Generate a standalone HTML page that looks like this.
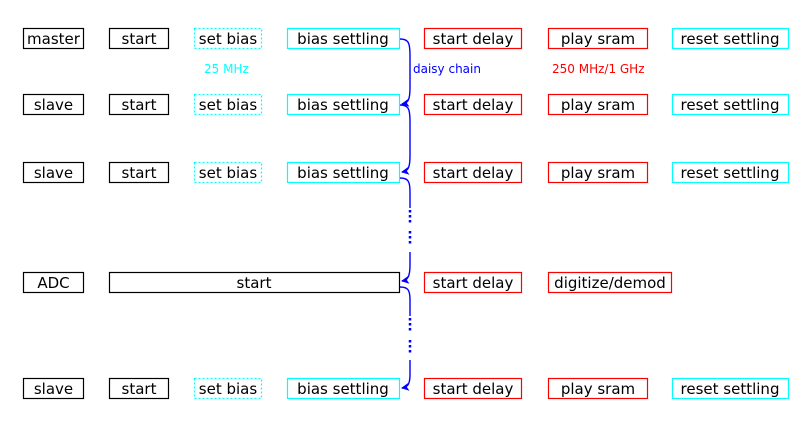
<!DOCTYPE html>
<html><head><style>
body{margin:0;background:#fff;width:806px;height:416px;overflow:hidden}
</style></head><body>
<svg width="806" height="416" xmlns="http://www.w3.org/2000/svg" font-family="DejaVu Sans, Verdana, sans-serif">
<defs><marker id="a" markerWidth="8" markerHeight="8" refX="7" refY="4" orient="auto" markerUnits="userSpaceOnUse"><path d="M0,0 L8,4 L0,8 L2,4 z" fill="#00f"/></marker></defs>
<g font-size="15" text-anchor="middle" fill="#000" stroke-width="1.2">
<g>
<rect x="23.5" y="28.5" width="60" height="20" fill="none" stroke="#000"/><text x="53.5" y="44">master</text>
<rect x="109.5" y="28.5" width="59" height="20" fill="none" stroke="#000"/><text x="139" y="44">start</text>
<rect x="194.5" y="28.5" width="67" height="20" fill="none" stroke="#0ff" stroke-dasharray="2,2"/><text x="228" y="44">set bias</text>
<rect x="287.5" y="28.5" width="112" height="20" fill="none" stroke="#0ff"/><text x="343" y="44">bias settling</text>
<rect x="424.5" y="28.5" width="97" height="20" fill="none" stroke="#f00"/><text x="473" y="44">start delay</text>
<rect x="548.5" y="28.5" width="99" height="20" fill="none" stroke="#f00"/><text x="598" y="44">play sram</text>
<rect x="672.5" y="28.5" width="116" height="20" fill="none" stroke="#0ff"/><text x="730" y="44">reset settling</text>
</g>
<g transform="translate(0,66)">
<rect x="23.5" y="28.5" width="60" height="20" fill="none" stroke="#000"/><text x="53.5" y="44">slave</text>
<rect x="109.5" y="28.5" width="59" height="20" fill="none" stroke="#000"/><text x="139" y="44">start</text>
<rect x="194.5" y="28.5" width="67" height="20" fill="none" stroke="#0ff" stroke-dasharray="2,2"/><text x="228" y="44">set bias</text>
<rect x="287.5" y="28.5" width="112" height="20" fill="none" stroke="#0ff"/><text x="343" y="44">bias settling</text>
<rect x="424.5" y="28.5" width="97" height="20" fill="none" stroke="#f00"/><text x="473" y="44">start delay</text>
<rect x="548.5" y="28.5" width="99" height="20" fill="none" stroke="#f00"/><text x="598" y="44">play sram</text>
<rect x="672.5" y="28.5" width="116" height="20" fill="none" stroke="#0ff"/><text x="730" y="44">reset settling</text>
</g>
<g transform="translate(0,134)">
<rect x="23.5" y="28.5" width="60" height="20" fill="none" stroke="#000"/><text x="53.5" y="44">slave</text>
<rect x="109.5" y="28.5" width="59" height="20" fill="none" stroke="#000"/><text x="139" y="44">start</text>
<rect x="194.5" y="28.5" width="67" height="20" fill="none" stroke="#0ff" stroke-dasharray="2,2"/><text x="228" y="44">set bias</text>
<rect x="287.5" y="28.5" width="112" height="20" fill="none" stroke="#0ff"/><text x="343" y="44">bias settling</text>
<rect x="424.5" y="28.5" width="97" height="20" fill="none" stroke="#f00"/><text x="473" y="44">start delay</text>
<rect x="548.5" y="28.5" width="99" height="20" fill="none" stroke="#f00"/><text x="598" y="44">play sram</text>
<rect x="672.5" y="28.5" width="116" height="20" fill="none" stroke="#0ff"/><text x="730" y="44">reset settling</text>
</g>
<g transform="translate(0,244)">
<rect x="23.5" y="28.5" width="60" height="20" fill="none" stroke="#000"/><text x="53.5" y="44">ADC</text>
<rect x="109.5" y="28.5" width="290" height="20" fill="none" stroke="#000"/><text x="254" y="44">start</text>
<rect x="424.5" y="28.5" width="97" height="20" fill="none" stroke="#f00"/><text x="473" y="44">start delay</text>
<rect x="548.5" y="28.5" width="123" height="20" fill="none" stroke="#f00"/><text x="610" y="44">digitize/demod</text>
</g>
<g transform="translate(0,350)">
<rect x="23.5" y="28.5" width="60" height="20" fill="none" stroke="#000"/><text x="53.5" y="44">slave</text>
<rect x="109.5" y="28.5" width="59" height="20" fill="none" stroke="#000"/><text x="139" y="44">start</text>
<rect x="194.5" y="28.5" width="67" height="20" fill="none" stroke="#0ff" stroke-dasharray="2,2"/><text x="228" y="44">set bias</text>
<rect x="287.5" y="28.5" width="112" height="20" fill="none" stroke="#0ff"/><text x="343" y="44">bias settling</text>
<rect x="424.5" y="28.5" width="97" height="20" fill="none" stroke="#f00"/><text x="473" y="44">start delay</text>
<rect x="548.5" y="28.5" width="99" height="20" fill="none" stroke="#f00"/><text x="598" y="44">play sram</text>
<rect x="672.5" y="28.5" width="116" height="20" fill="none" stroke="#0ff"/><text x="730" y="44">reset settling</text>
</g>
</g>
<g font-size="12">
<text x="204" y="73" fill="#0ff">25 MHz</text>
<text x="413" y="73" fill="#00f">daisy chain</text>
<text x="552" y="73" fill="#f00">250 MHz/1 GHz</text>
</g>
<g fill="none" stroke="#00f" stroke-width="1.4">
<path d="M400,39 C408,39 410,42 410,55 L410,88 C410,100 408,103 402,104" marker-end="url(#a)"/>
<path d="M400,105 C408,105 410,108 410,121 L410,156 C410,168 408,171 402,172" marker-end="url(#a)"/>
<path d="M400,178 C408,178 410,181 410,192 L410,208"/>
<path d="M410,210 L410,224 M410,231 L410,246" stroke-dasharray="2.5,2.5" stroke-width="2.5"/>
<path d="M410,252 L410,265 C410,276 408,280 402,281" marker-end="url(#a)"/>
<path d="M400,287 C408,287 410,290 410,300 L410,316"/>
<path d="M410,318 L410,332 M410,340 L410,355" stroke-dasharray="2.5,2.5" stroke-width="2.5"/>
<path d="M410,360 L410,374 C410,384 408,387 402,388" marker-end="url(#a)"/>
</g>
</svg>
</body></html>
